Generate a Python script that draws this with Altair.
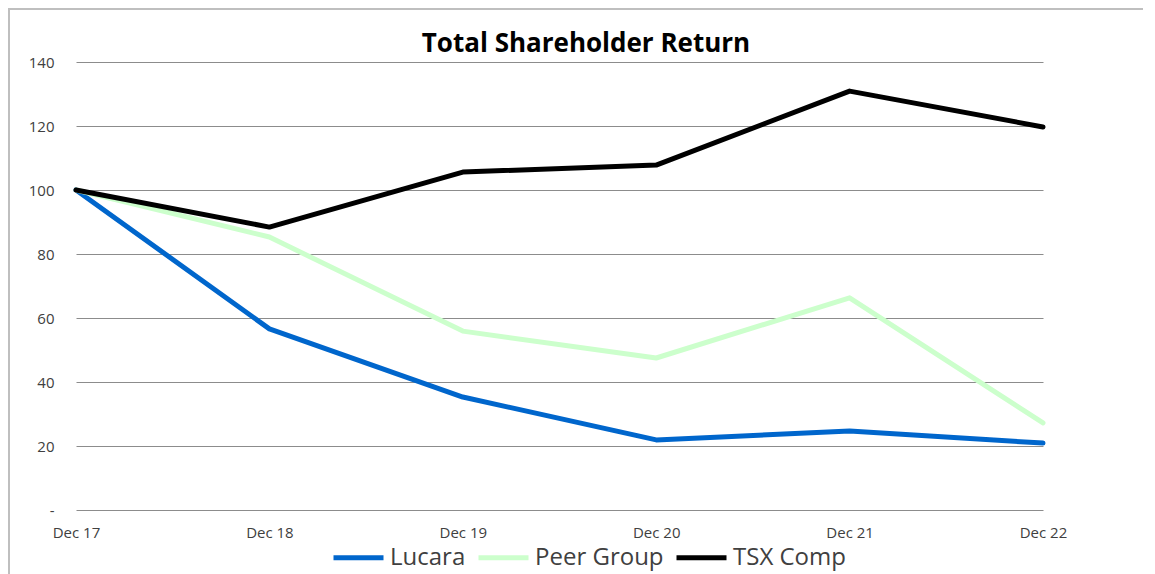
import altair as alt
import pandas as pd

dates = ["Dec 17", "Dec 18", "Dec 19", "Dec 20", "Dec 21", "Dec 22"]
lucara = [100, 56.6, 35.3, 21.9, 24.7, 20.9]
peer_group = [100, 85.3, 55.9, 47.5, 66.3, 27.2]
tsx_comp = [100, 88.4, 105.6, 107.8, 130.9, 119.7]
series_names = ["Lucara", "Peer Group", "TSX Comp"]
series_colors = ["#0066CC", "#CCFFCC", "#000000"]
title_text = "Total Shareholder Return"

rows = []
for name, vals in zip(series_names, [lucara, peer_group, tsx_comp]):
    for i, (d, v) in enumerate(zip(dates, vals)):
        rows.append({"date": d, "value": v, "series": name, "order": i})
df = pd.DataFrame(rows)

W, H = 967, 448

lines = alt.Chart(df).mark_line(strokeWidth=5, strokeCap="round", strokeJoin="round").encode(
    x=alt.X("date:N", sort=dates, scale=alt.Scale(type="point", padding=0),
            axis=alt.Axis(title=None, labelAngle=0, domain=False, ticks=False, grid=False,
                          labelPadding=15, labelFontSize=15, labelColor="#404040",
                          labelFont="Open Sans")),
    y=alt.Y("value:Q", scale=alt.Scale(domain=[0, 140]),
            axis=alt.Axis(title=None, values=[0, 20, 40, 60, 80, 100, 120, 140],
                          labelExpr="datum.value == 0 ? '-' : datum.label",
                          domain=False, ticks=False, grid=True, gridColor="#8C8C8C",
                          gridWidth=1, labelPadding=22, labelFontSize=15,
                          labelColor="#404040", labelFont="Open Sans")),
    color=alt.Color("series:N", scale=alt.Scale(domain=series_names, range=series_colors),
                    legend=alt.Legend(title=None, orient="none", direction="horizontal",
                                      legendX=255, legendY=468, symbolType="stroke",
                                      symbolSize=2500, symbolStrokeWidth=5,
                                      labelFontSize=24, labelFont="Open Sans",
                                      labelColor="#404040", columnPadding=2,
                                      labelOffset=4, symbolOffset=0)),
    order="order:Q",
)

frame = pd.DataFrame({"k": [0]})
left_line = alt.Chart(frame).mark_rule(color="#BFBFBF", strokeWidth=2).encode(
    x=alt.value(-67), y=alt.value(-54), y2=alt.value(H + 70))
top_line = alt.Chart(frame).mark_rule(color="#BFBFBF", strokeWidth=2).encode(
    x=alt.value(-68), x2=alt.value(W + 120), y=alt.value(-53))
title = alt.Chart(frame).mark_text(text=title_text, font="Open Sans", fontSize=26,
                                   fontWeight="bold", color="#000000", align="center",
                                   baseline="alphabetic").encode(
    x=alt.value(510), y=alt.value(-10))

chart = alt.layer(left_line, top_line, title, lines).properties(
    width=W, height=H,
    autosize=alt.AutoSizeParams(type="none"),
    padding={"left": 68, "top": 54, "right": 100, "bottom": 64},
).configure_view(stroke=None)

chart.save("out.html", embed_options={"renderer": "svg", "actions": False})
